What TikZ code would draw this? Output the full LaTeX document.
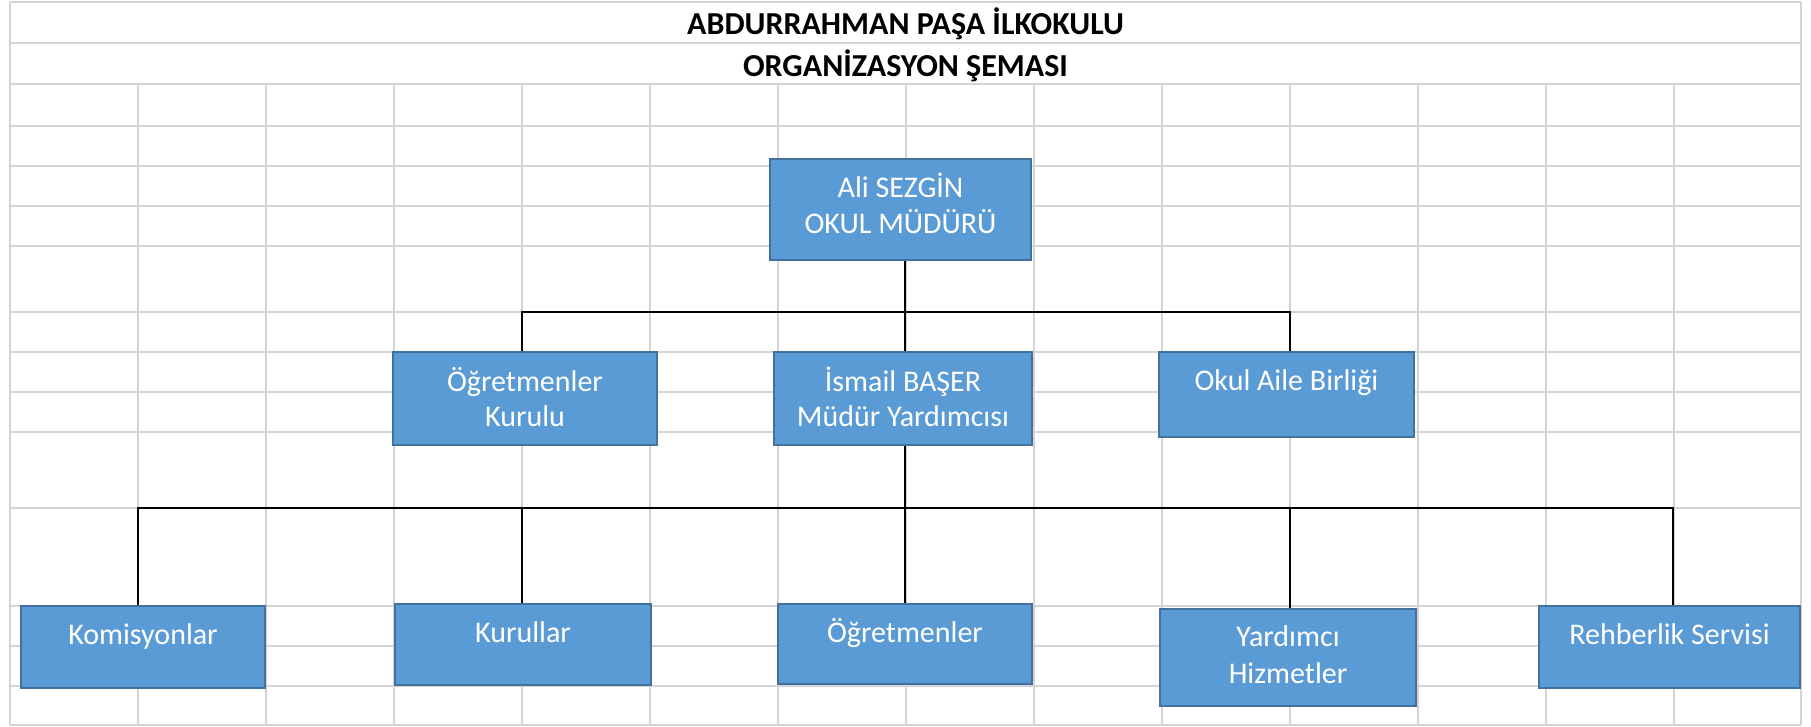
\documentclass[tikz,border=0pt]{standalone}
\usepackage{fontspec}
\setmainfont{Carlito}
\definecolor{gridc}{HTML}{D4D4D4}
\definecolor{boxfill}{HTML}{5B9BD5}
\definecolor{boxline}{HTML}{41719C}
\tikzset{
  gridline/.style={draw=gridc, line width=2pt},
  conn/.style={draw=black, line width=2.2pt},
  orgbox/.style={draw=boxline, fill=boxfill, line width=2pt, rectangle, inner sep=0pt},
  boxtext/.style={text=white, font=\fontsize{30}{36}\selectfont, anchor=base, inner sep=0pt},
  titletext/.style={text=black, font=\fontsize{32}{38}\selectfont\bfseries, anchor=base, inner sep=0pt}
}
\begin{document}
\begin{tikzpicture}[x=1pt,y=-1pt]
\useasboundingbox (0,0) rectangle (1811,726);
\fill[white] (0,0) rectangle (1811,726);
% grid: horizontal lines
\foreach \yy in {2,43,84,125.7,165.7,205.7,245.7,311.7,351.7,392,432,508,606,646,686,725}
  \draw[gridline] (10,\yy) -- (1801,\yy);
% grid: vertical lines
\foreach \xx in {10,138,266,394,522,650,778,906,1034,1162,1290,1418,1546,1674,1801}
  \draw[gridline] (\xx,84) -- (\xx,725);
\draw[gridline] (10,2) -- (10,84);
\draw[gridline] (1801,2) -- (1801,84);
% titles
\node[titletext] (title1) at (905.5,34.3) {ABDURRAHMAN PAŞA İLKOKULU};
\node[titletext] (title2) at (905.5,76.2) {ORGANİZASYON ŞEMASI};
% bus coordinates
\coordinate (d1) at (522,311.7);
\coordinate (d2) at (905,311.7);
\coordinate (d3) at (1290,311.7);
\coordinate (e1) at (138,508);
\coordinate (e2) at (522,508);
\coordinate (e3) at (905,508);
\coordinate (e4) at (1290,508);
\coordinate (e5) at (1673,508);
% boxes
\node[orgbox, minimum width=261pt, minimum height=101pt] (ali) at (900.5,209.5) {};
\node[orgbox, minimum width=264pt, minimum height=93pt] (ogk) at (525,398.5) {};
\node[orgbox, minimum width=258pt, minimum height=93pt] (ism) at (903,398.5) {};
\node[orgbox, minimum width=255pt, minimum height=85pt] (oab) at (1286.5,394.5) {};
\node[orgbox, minimum width=244pt, minimum height=82pt] (kom) at (143,647) {};
\node[orgbox, minimum width=256pt, minimum height=81pt] (kur) at (523,644.5) {};
\node[orgbox, minimum width=254pt, minimum height=80pt] (ogr) at (905,644) {};
\node[orgbox, minimum width=256pt, minimum height=97pt] (yar) at (1288,657.5) {};
\node[orgbox, minimum width=261pt, minimum height=82pt] (reh) at (1669.5,647) {};
% connectors
\draw[conn] (d2 |- ali.south) -- (d2);
\draw[conn] (d1 |- ogk.north) -- (d1) -- (d3) -- (d3 |- oab.north);
\draw[conn] (d2) -- (d2 |- ism.north);
\draw[conn] (e3 |- ism.south) -- (e3);
\draw[conn] (e1 |- kom.north) -- (e1) -- (e5) -- (e5 |- reh.north);
\draw[conn] (e2) -- (e2 |- kur.north);
\draw[conn] (e3) -- (e3 |- ogr.north);
\draw[conn] (e4) -- (e4 |- yar.north);
% box texts
\node[boxtext] (ali1) at (900.5,197.3) {Ali SEZGİN};
\node[boxtext] (ali2) at (900.5,233.3) {OKUL MÜDÜRÜ};
\node[boxtext] (ogk1) at (525,391.3) {Öğretmenler};
\node[boxtext] (ogk2) at (525,426.3) {Kurulu};
\node[boxtext] (ism1) at (903,391.3) {İsmail BAŞER};
\node[boxtext] (ism2) at (903,426.3) {Müdür Yardımcısı};
\node[boxtext] (oab1) at (1286.5,390.3) {Okul Aile Birliği};
\node[boxtext] (kom1) at (143,644.7) {Komisyonlar};
\node[boxtext] (kur1) at (523,642.3) {Kurullar};
\node[boxtext] (ogr1) at (905,642) {Öğretmenler};
\node[boxtext] (yar1) at (1288,646.3) {Yardımcı};
\node[boxtext] (yar2) at (1288,683) {Hizmetler};
\node[boxtext] (reh1) at (1669.5,644.7) {Rehberlik Servisi};
\end{tikzpicture}
\end{document}
